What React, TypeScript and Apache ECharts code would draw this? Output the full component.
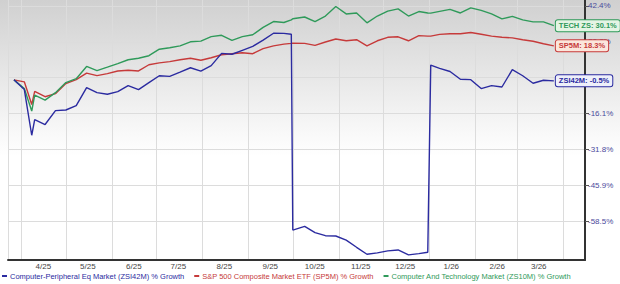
import React, { useEffect, useRef } from "react";
import * as echarts from "echarts";

// ---- data ----
const dates = [
  "2025-03-27", "2025-04-03", "2025-04-08", "2025-04-10", "2025-04-17", "2025-04-24",
  "2025-05-01", "2025-05-08", "2025-05-15", "2025-05-22", "2025-05-29",
  "2025-06-05", "2025-06-12", "2025-06-19", "2025-06-26",
  "2025-07-03", "2025-07-10", "2025-07-17", "2025-07-24", "2025-07-31",
  "2025-08-07", "2025-08-14", "2025-08-21", "2025-08-28",
  "2025-09-04", "2025-09-11", "2025-09-18", "2025-09-25", "2025-09-30",
  "2025-10-01", "2025-10-09", "2025-10-16", "2025-10-23", "2025-10-30",
  "2025-11-06", "2025-11-13", "2025-11-20", "2025-11-27",
  "2025-12-04", "2025-12-11", "2025-12-18", "2025-12-25", "2025-12-31",
  "2026-01-02", "2026-01-08", "2026-01-15", "2026-01-22", "2026-01-29",
  "2026-02-05", "2026-02-12", "2026-02-19", "2026-02-26",
  "2026-03-05", "2026-03-12", "2026-03-19", "2026-03-26",
];

const peripheralGrowth = [
  0, -4.9, -26.0, -19.1, -21.3, -15.0,
  -14.7, -12.6, -3.9, -6.4, -7.2,
  -5.9, -2.9, -4.9, -1.4,
  2.1, 1.8, 4.0, 6.3, 4.5,
  7.4, 14.1, 13.6, 15.8,
  18.0, 21.6, 25.6, 25.5, 25.0,
  -61.4, -60.2, -62.2, -63.2, -63.3,
  -64.6, -66.8, -68.9, -68.5,
  -67.9, -67.6, -69.1, -68.7, -68.3,
  7.7, 6.0, 4.3, 0.3, 0.1,
  -4.4, -2.9, -3.6, 5.3,
  2.1, -1.7, -0.2, -0.5,
];

const sp500Growth = [
  0, -1.0, -12.1, -5.8, -8.4, -6.9,
  -1.9, 0.1, 3.5, 2.2, 3.2,
  4.6, 5.0, 4.6, 7.9,
  8.9, 9.6, 10.6, 11.4, 10.3,
  11.7, 13.3, 13.9, 14.4,
  13.9, 16.7, 18.3, 19.3, 19.7,
  19.8, 19.7, 18.6, 20.5, 22.2,
  21.2, 21.8, 18.3, 21.2,
  23.2, 23.5, 21.2, 24.2, 23.9,
  23.9, 24.9, 25.3, 25.3, 26.0,
  25.0, 23.9, 23.2, 22.9,
  21.8, 20.9, 19.5, 18.3,
];

const techGrowth = [
  0, -4.4, -15.2, -7.6, -10.0, -6.4,
  -1.4, 0.6, 7.0, 4.8, 6.6,
  8.5, 10.6, 11.4, 12.8,
  16.4, 17.2, 18.3, 20.6, 21.0,
  23.6, 24.4, 21.4, 23.6,
  24.7, 29.1, 32.6, 32.0, 33.6,
  34.3, 35.4, 32.6, 36.0, 42.0,
  37.3, 37.9, 31.8, 36.0,
  39.1, 40.5, 36.0, 38.8, 37.9,
  37.8, 38.9, 40.2, 37.9, 41.1,
  39.5, 37.3, 34.2, 35.8,
  33.6, 32.4, 32.4, 30.1,
];

const tickLabels = ["-58.5%", "-45.9%", "-31.8%", "-16.1%", "1.1%", "20.8%", "42.4%"];
const xMin = "2025-03-23";
const xMax = "2026-04-16";

const seriesNames = [
  "Computer-Peripheral Eq Market (ZSI42M) % Growth",
  "S&P 500 Composite Market ETF (SP5M) % Growth",
  "Computer And Technology Market (ZS10M) % Growth",
];
const endTags = ["ZSI42M", "SP5M", "TECH ZS"];

// ---- styling ----
const BLUE = "#2b2ba0";
const RED = "#c63a3a";
const GREEN = "#2f9a5a";

// The chart's vertical scale: equal steps between grid lines, shift-log of growth
const SHIFT = 166;
const BASE = 107.5;
const STEP = 0.11032;
const toAxis = (v: number) => Math.log((v + SHIFT) / BASE) / STEP;

export default function App() {
  const ref = useRef<HTMLDivElement>(null);

  useEffect(() => {
    document.body.style.margin = "0";
    if (!ref.current) return;
    const chart = echarts.init(ref.current, undefined, { renderer: "svg" });

    const mk = (vals: number[]) => dates.map((d, i) => [d, toAxis(vals[i])]);
    const font = "Liberation Sans, Arial, sans-serif";

    const endLabel = (idx: number, vals: number[], color: string, bg: string) => ({
      show: true,
      formatter: () => `${endTags[idx]}: ${vals[vals.length - 1].toFixed(1)}%`,
      color,
      backgroundColor: bg,
      borderColor: color,
      borderWidth: 1,
      borderRadius: 2,
      padding: [2, 3, 1, 3],
      fontSize: 7.5,
      fontWeight: "bold",
      fontFamily: font,
      distance: 2,
    });

    chart.setOption({
      animation: false,
      backgroundColor: new echarts.graphic.LinearGradient(0, 0, 0, 1, [
        { offset: 0, color: "#d0d0d0" },
        { offset: 0.45, color: "#f7f7f7" },
        { offset: 0.55, color: "#ffffff" },
        { offset: 1, color: "#ffffff" },
      ]),
      grid: { left: 8, right: 35, top: 0, bottom: 24, containLabel: false },
      legend: {
        left: 2,
        top: 272,
        icon: "rect",
        itemWidth: 5,
        itemHeight: 2,
        itemGap: 10,
        padding: 0,
        textStyle: { fontSize: 7.5, fontFamily: font, padding: [0, 0, 0, -2] },
        data: [
          { name: seriesNames[0], textStyle: { color: BLUE } },
          { name: seriesNames[1], textStyle: { color: RED } },
          { name: seriesNames[2], textStyle: { color: GREEN } },
        ],
      },
      xAxis: {
        type: "time",
        min: xMin,
        max: xMax,
        splitNumber: 13,
        minInterval: 28 * 86400000,
        maxInterval: 31 * 86400000,
        axisLine: { show: true, onZero: false, lineStyle: { color: "#333", width: 2 } },
        axisTick: { show: false },
        splitLine: { show: true, lineStyle: { color: "#dcdcdc", width: 1 } },
        axisLabel: {
          color: "#444",
          fontSize: 8,
          fontFamily: font,
          margin: 2,
          padding: [0, 0, 0, 44],
          hideOverlap: false,
          formatter: (val: number) => {
            const d = new Date(val);
            if (d.getFullYear() === 2026 && d.getMonth() >= 3) return "";
            return `${d.getMonth() + 1}/${String(d.getFullYear()).slice(2)}`;
          },
        },
      },
      yAxis: {
        type: "value",
        position: "right",
        min: toAxis(-70.6),
        max: toAxis(46.2),
        axisLine: { show: true, lineStyle: { color: "#333", width: 2 } },
        axisTick: {
          show: true,
          customValues: [0, 1, 2, 3, 4, 5, 6],
          length: 4,
          lineStyle: { color: "#555" },
        },
        axisLabel: {
          customValues: [0, 1, 2, 3, 4, 5, 6],
          color: "#4a4a9c",
          fontSize: 8,
          fontFamily: font,
          margin: 3,
          formatter: (v: number) => tickLabels[Math.round(v)] ?? "",
        },
        splitLine: { show: true, lineStyle: { color: "#dcdcdc", width: 1 } },
      },
      series: [
        {
          name: seriesNames[1],
          type: "line",
          data: mk(sp500Growth),
          showSymbol: false,
          lineStyle: { color: RED, width: 1.4 },
          itemStyle: { color: RED },
          endLabel: endLabel(1, sp500Growth, RED, "#fbe6dc"),
          z: 3,
        },
        {
          name: seriesNames[2],
          type: "line",
          data: mk(techGrowth),
          showSymbol: false,
          lineStyle: { color: GREEN, width: 1.4 },
          itemStyle: { color: GREEN },
          endLabel: endLabel(2, techGrowth, GREEN, "#e4f4e4"),
          z: 4,
        },
        {
          name: seriesNames[0],
          type: "line",
          data: mk(peripheralGrowth),
          showSymbol: false,
          lineStyle: { color: BLUE, width: 1.4 },
          itemStyle: { color: BLUE },
          endLabel: endLabel(0, peripheralGrowth, BLUE, "#eef0fa"),
          z: 5,
        },
      ],
    });

    return () => chart.dispose();
  }, []);

  return <div ref={ref} style={{ width: 620, height: 284 }} />;
}
